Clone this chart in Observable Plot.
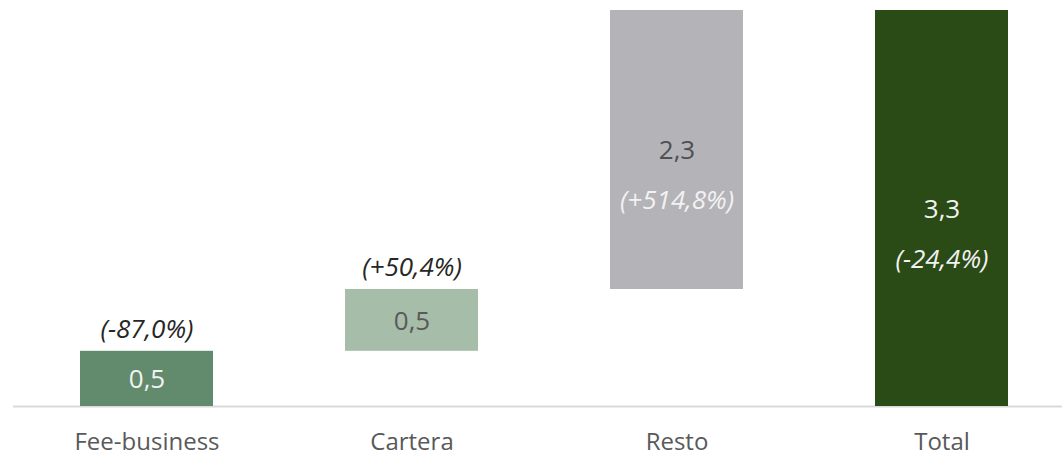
<!DOCTYPE html>
<html>
<head>
<meta charset="utf-8">
<script src="https://cdn.jsdelivr.net/npm/d3@7"></script>
<script src="https://cdn.jsdelivr.net/npm/@observablehq/plot@0.6"></script>
<style>
  html, body { margin: 0; padding: 0; background: #fff; }
  #chart { width: 1062px; height: 457px; }
  svg { font-family: "Open Sans", "Noto Sans", sans-serif; }
</style>
</head>
<body>
<div id="chart"></div>
<script>
const categories = ["Fee-business", "Cartera", "Resto", "Total"];
const values = [0.46, 0.515, 2.325, 3.3];
const isTotal = [false, false, false, true];
const valueLabels = ["0,5", "0,5", "2,3", "3,3"];
const pctLabels = ["(-87,0%)", "(+50,4%)", "(+514,8%)", "(-24,4%)"];
const barColors = ["#628b6d", "#a6bda9", "#b4b3b8", "#2a4a16"];
const valueColors = ["#f2f2f2", "#595959", "#505050", "#f2f2f2"];
const pctColors = ["#262626", "#262626", "#f2f2f2", "#f2f2f2"];
const pctInside = [false, false, true, true];

let run = 0;
const rows = categories.map((c, i) => {
  const start = isTotal[i] ? 0 : run;
  const end = isTotal[i] ? values[i] : run + values[i];
  if (!isTotal[i]) run = end;
  return {
    cat: c, start, end, mid: (start + end) / 2,
    vl: valueLabels[i], pl: pctLabels[i],
    bc: barColors[i], vc: valueColors[i], pc: pctColors[i], inside: pctInside[i]
  };
});

const chart = Plot.plot({
  width: 1062,
  height: 457,
  marginTop: 10,
  marginBottom: 51,
  marginLeft: 13,
  marginRight: 0,
  x: { domain: categories, paddingInner: 0.5, paddingOuter: 0.226, align: 0.55, label: null },
  y: { domain: [0, 3.3], axis: null },
  style: { fontFamily: "'Open Sans', 'Noto Sans', sans-serif" },
  marks: [
    Plot.ruleY([0], { stroke: "#d9d9d9", strokeWidth: 2 }),
    Plot.rectY(rows, { x: "cat", y1: "start", y2: "end", fill: "bc" }),
    Plot.text(rows, {
      x: "cat", y: "mid", text: "vl", fill: "vc",
      fontSize: 26, fontWeight: 400, lineAnchor: "middle", dy: 1
    }),
    Plot.text(rows.filter(d => !d.inside), {
      x: "cat", y: "end", text: "pl", fill: "pc",
      fontSize: 26, fontWeight: 400, fontStyle: "italic", lineAnchor: "middle", dy: -22
    }),
    Plot.text(rows.filter(d => d.inside), {
      x: "cat", y: "mid", text: "pl", fill: "pc",
      fontSize: 26, fontWeight: 400, fontStyle: "italic", lineAnchor: "middle", dy: 51
    }),
    Plot.axisX({ tickSize: 0, tickPadding: 26, fontSize: 24, fontWeight: 400, color: "#595959", label: null })
  ]
});
document.getElementById("chart").append(chart);
</script>
</body>
</html>
